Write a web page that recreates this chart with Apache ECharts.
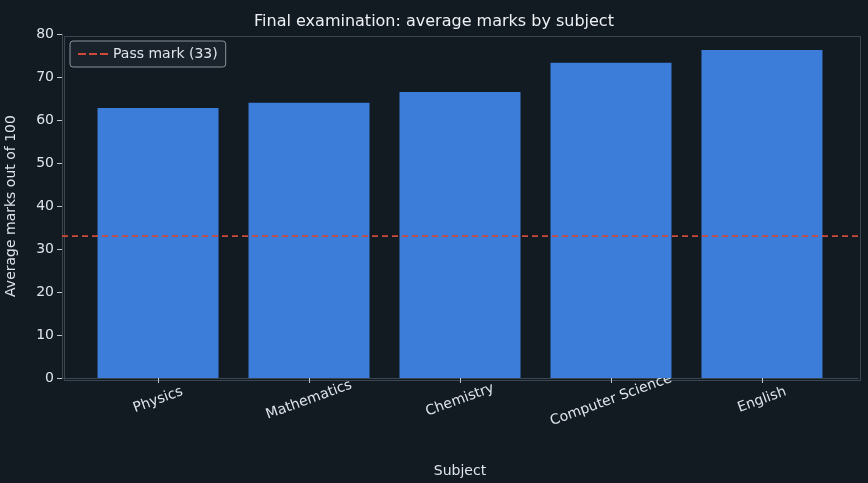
<!DOCTYPE html><html><head><meta charset="utf-8">
<script src="https://cdn.jsdelivr.net/npm/echarts@6/dist/echarts.min.js"></script>
<style>html,body{margin:0;background:#121a22}#c{width:868px;height:483px}</style></head><body><div id="c"></div>
<script>
const categories=["Physics","Mathematics","Chemistry","Computer Science","English"];
const marks=[62.8,64.0,66.5,73.3,76.3];
const passMark=33;
const yTicks=[0,10,20,30,40,50,60,70,80];
const txt='#dfe4ea', axisC='#3a4652';
const ch=echarts.init(document.getElementById('c'));
ch.setOption({
 backgroundColor:'#121a22',
 animation:false,
 textStyle:{fontFamily:'DejaVu Sans'},
 title:{text:'Final examination: average marks by subject',left:'center',top:9,textStyle:{color:'#eef1f4',fontSize:16,fontWeight:'normal'}},
 legend:{left:70,top:41,orient:'vertical',backgroundColor:'#1a232c',borderColor:'#8a939c',borderWidth:1,borderRadius:3,padding:[6,8],itemWidth:30,itemHeight:2,textStyle:{color:txt,fontSize:14},data:[{name:'Pass mark (33)',icon:'path://M0,0h8v2h-8z M11,0h8v2h-8z M22,0h8v2h-8z',itemStyle:{color:'#d04a3a'}}]},
 grid:{left:62,right:10,top:34,bottom:105,containLabel:false,outerBoundsMode:'none'},
 xAxis:{type:'value',min:-0.636,max:4.636,name:'Subject',nameLocation:'middle',nameGap:86,nameTextStyle:{color:txt,fontSize:14},
  axisLine:{show:true,onZero:false,lineStyle:{color:axisC}},splitLine:{show:false},
  axisTick:{show:true,customValues:[0,1,2,3,4],length:5,lineStyle:{color:'#c0c6cc'}},
  axisLabel:{customValues:[0,1,2,3,4],rotate:20,align:'center',verticalAlign:'middle',color:txt,fontSize:14,margin:22,formatter:v=>categories[Math.round(v)]}},
 yAxis:{type:'value',min:0,max:80,interval:10,name:'Average marks out of 100',nameLocation:'middle',nameGap:44,nameTextStyle:{color:txt,fontSize:14},
  axisLine:{show:true,onZero:false,lineStyle:{color:axisC}},axisTick:{show:true,length:5,lineStyle:{color:'#c0c6cc'}},splitLine:{show:false},
  axisLabel:{color:txt,fontSize:14,formatter:v=>yTicks.includes(v)?String(v):''}},
 graphic:[{type:'rect',left:62,top:34,shape:{width:796,height:344},style:{fill:'none',stroke:axisC,lineWidth:1},silent:true}],
 series:[
  {type:'bar',data:marks.map((v,i)=>[i,v]),barWidth:121,itemStyle:{color:'#3b7dd8'}},
  {type:'line',name:'Pass mark (33)',data:[[-0.636,passMark],[4.636,passMark]],symbol:'none',lineStyle:{color:'#d04a3a',type:[6,4],width:1.6},z:5}
 ]
});
</script></body></html>
